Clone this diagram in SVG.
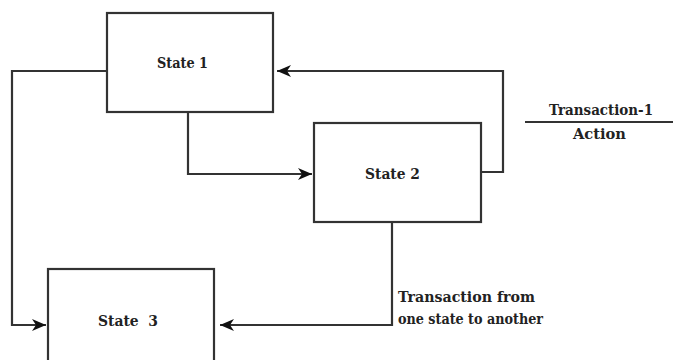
<svg xmlns="http://www.w3.org/2000/svg" width="673" height="360" viewBox="0 0 673 360">
<style>
.box{fill:#fff;stroke:#333;stroke-width:2.2}
.ln{fill:none;stroke:#333;stroke-width:2.2}
.t{font-family:"DejaVu Serif","Liberation Serif",serif;font-weight:bold;font-size:14px;fill:#222}
</style>
<defs>
<marker id="ah" viewBox="0 0 14 12" refX="14" refY="6" markerWidth="14" markerHeight="12" markerUnits="userSpaceOnUse" orient="auto">
<path d="M0,0 L14,6 L0,12 L4,6 Z" fill="#111"/>
</marker>
</defs>
<rect width="673" height="360" fill="#fff"/>
<g id="connectors">
<polyline class="ln" points="107,71 12,71 12,325 46,325" marker-end="url(#ah)"/>
<polyline class="ln" points="188,112 188,174 312,174" marker-end="url(#ah)"/>
<polyline class="ln" points="481,172 503,172 503,71 277,71" marker-end="url(#ah)"/>
<polyline class="ln" points="392,222 392,325 220,325" marker-end="url(#ah)"/>
</g>
<g id="state1">
<rect class="box" x="107" y="13" width="166" height="99"/>
<text class="t" x="157" y="68" textLength="51" lengthAdjust="spacingAndGlyphs">State 1</text>
</g>
<g id="state2">
<rect class="box" x="314" y="123" width="167" height="99"/>
<text class="t" x="365" y="179" textLength="55" lengthAdjust="spacingAndGlyphs">State 2</text>
</g>
<g id="state3">
<rect class="box" x="48" y="269" width="166" height="100"/>
<text class="t" x="98" y="326" textLength="60" lengthAdjust="spacingAndGlyphs" xml:space="preserve">State  3</text>
</g>
<g id="legend">
<text class="t" x="549" y="115" textLength="104" lengthAdjust="spacingAndGlyphs">Transaction-1</text>
<line class="ln" x1="525" y1="122" x2="673" y2="122" stroke-width="2"/>
<text class="t" x="573" y="139" textLength="53" lengthAdjust="spacingAndGlyphs">Action</text>
</g>
<g id="label">
<text class="t" x="398" y="302" textLength="137" lengthAdjust="spacingAndGlyphs">Transaction from</text>
<text class="t" x="398" y="324" textLength="145" lengthAdjust="spacingAndGlyphs">one state to another</text>
</g>
</svg>
